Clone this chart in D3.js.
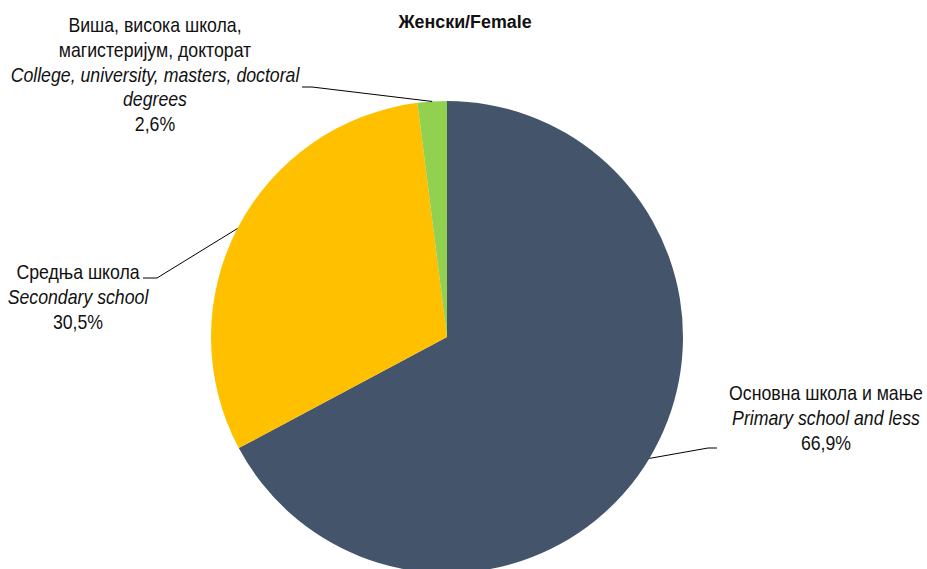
<!DOCTYPE html>
<html>
<head>
<meta charset="utf-8">
<script src="https://cdn.jsdelivr.net/npm/d3@7"></script>
<style>
  html, body { margin: 0; padding: 0; background: #fff; }
  svg { display: block; }
  text { font-family: "Liberation Sans Narrow", "Arial Narrow", "Liberation Sans", Arial, sans-serif; fill: #111; }
</style>
</head>
<body>
<svg id="chart" width="927" height="569"></svg>
<script>
const title = "Женски/Female";
const categories = ["Основна школа и мање", "Средња школа", "Виша, висока школа, магистеријум, докторат"];
const labelsSr = [["Основна школа и мање"], ["Средња школа"], ["Виша, висока школа,", "магистеријум, докторат"]];
const labelsEn = [["Primary school and less"], ["Secondary school"], ["College, university, masters, doctoral", "degrees"]];
// printed percentages
const percentLabels = ["66,9%", "30,5%", "2,6%"];
// slice sizes as drawn in the picture (%)
const values = [67.2, 30.8, 2.0];
const colors = ["#44546A", "#FFC000", "#92D050"];

const svg = d3.select("#chart");
const cx = 447, cy = 337, R = 236;
const sx = 0.885;

svg.append("g").attr("transform", `translate(465,28) scale(0.94,1)`)
  .append("text")
  .attr("x", 0).attr("y", 0)
  .attr("text-anchor", "middle")
  .style("font-size", "19px").style("font-weight", "bold")
  .text(title);

const pie = d3.pie().sort(null).value(d => d)(values);
const arc = d3.arc().innerRadius(0).outerRadius(R);
const color = d3.scaleOrdinal().domain(d3.range(values.length)).range(colors);

const g = svg.append("g").attr("transform", `translate(${cx},${cy})`);
g.selectAll("path").data(pie).join("path")
  .attr("d", arc)
  .attr("fill", (d, i) => color(i));

const labelPos = [
  { x: 826, y: 393, elbow: [261, 111], end: [270, 111] },
  { x: 78, y: 272, elbow: [-290, -59], end: [-304, -59] },
  { x: 155, y: 25, elbow: [-135, -250], end: [-145, -250] }
];
const lineH = 24.8;

pie.forEach((d, i) => {
  const [ax, ay] = d3.arc().innerRadius(R).outerRadius(R).centroid(d);
  const lp = labelPos[i];
  g.append("polyline")
    .attr("points", [[ax, ay], lp.elbow, lp.end].map(p => p.join(",")).join(" "))
    .attr("fill", "none").attr("stroke", "#000").attr("stroke-width", 1);

  const lines = [];
  labelsSr[i].forEach(t => lines.push({ t, it: false }));
  labelsEn[i].forEach(t => lines.push({ t, it: true }));
  lines.push({ t: percentLabels[i], it: false });
  const txt = svg.append("g")
    .attr("transform", `translate(${lp.x},${lp.y}) scale(${sx},1)`)
    .append("text").attr("text-anchor", "middle").style("font-size", "20px");
  lines.forEach((l, k) => {
    txt.append("tspan")
      .attr("x", 0).attr("y", k * lineH + 7)
      .style("font-style", l.it ? "italic" : "normal")
      .text(l.t);
  });
});
</script>
</body>
</html>
